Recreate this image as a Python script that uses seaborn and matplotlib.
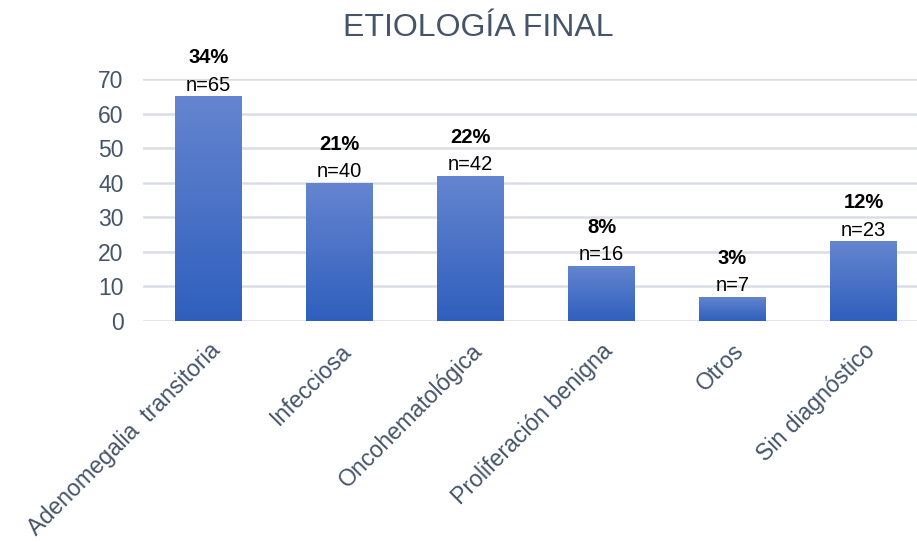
import matplotlib
matplotlib.use("Agg")
import matplotlib.pyplot as plt
import seaborn as sns
import numpy as np
import pandas as pd
from matplotlib.colors import LinearSegmentedColormap

categories = ["Adenomegalia  transitoria", "Infecciosa", "Oncohematológica",
              "Proliferación benigna", "Otros", "Sin diagnóstico"]
counts = [65, 40, 42, 16, 7, 23]
percents = ["34%", "21%", "22%", "8%", "3%", "12%"]
yticks = [0, 10, 20, 30, 40, 50, 60, 70]
title = "ETIOLOGÍA FINAL"

sns.set_theme(style="white")
plt.rcParams['font.family'] = ['Liberation Sans', 'DejaVu Sans']

W, H = 917, 542
fig = plt.figure(figsize=(W / 100, H / 100), dpi=100)
left, right = 143, 929
bottom, top = 321, 79
ax = fig.add_axes([left / W, 1 - bottom / H, (right - left) / W, (bottom - top) / H])

df = pd.DataFrame({"cat": categories, "n": counts})
sns.barplot(data=df, x="cat", y="n", ax=ax, color="#4472C4", width=0.51,
            saturation=1, zorder=2)

ax.set_ylim(0, 70)
ax.set_xlim(-0.5, len(categories) - 0.5)
ax.set_yticks(yticks)
ax.yaxis.grid(True, color="#DADEE4", linewidth=1.8, zorder=0)
ax.set_axisbelow(True)
for s in ax.spines.values():
    s.set_visible(False)
ax.set_xlabel("")
ax.set_ylabel("")
slate = "#44546A"
ax.tick_params(axis="y", labelsize=16.5, labelcolor=slate, length=0, pad=14)
ax.tick_params(axis="x", length=0)
ax.set_xticks(range(len(categories)))
ax.set_xticklabels(categories, rotation=45, ha="right", va="top",
                   rotation_mode="anchor", fontsize=16.7, color=slate)
for lbl in ax.get_xticklabels():
    lbl.set_y(-0.055)

# gradient fill on each bar
cmap = LinearSegmentedColormap.from_list("g", ["#2F5FBD", "#6585D0"])
grad = np.linspace(0, 1, 256).reshape(-1, 1)
for p in ax.patches:
    x0, y0 = p.get_x(), p.get_y()
    w, h = p.get_width(), p.get_height()
    im = ax.imshow(grad, cmap=cmap, origin="lower", aspect="auto",
                   extent=[x0, x0 + w, y0, y0 + h], zorder=3)
    im.set_clip_path(p)
    p.set_facecolor("none")
    p.set_edgecolor("none")
ax.set_xlim(-0.5, len(categories) - 0.5)
ax.set_ylim(0, 70)

for i, (c, pc) in enumerate(zip(counts, percents)):
    ax.annotate(f"n={c}", (i, c), xytext=(0, 1), textcoords="offset points",
                ha="center", va="bottom", fontsize=14.5, color="black",
                annotation_clip=False)
    ax.annotate(pc, (i, c), xytext=(0, 21), textcoords="offset points",
                ha="center", va="bottom", fontsize=14.5, fontweight="bold",
                color="black", annotation_clip=False)

fig.text(478 / W, 1 - 28 / H, title, ha="center", va="center",
         fontsize=23, color=slate)

fig.savefig("out.png", dpi=100, facecolor="white")
